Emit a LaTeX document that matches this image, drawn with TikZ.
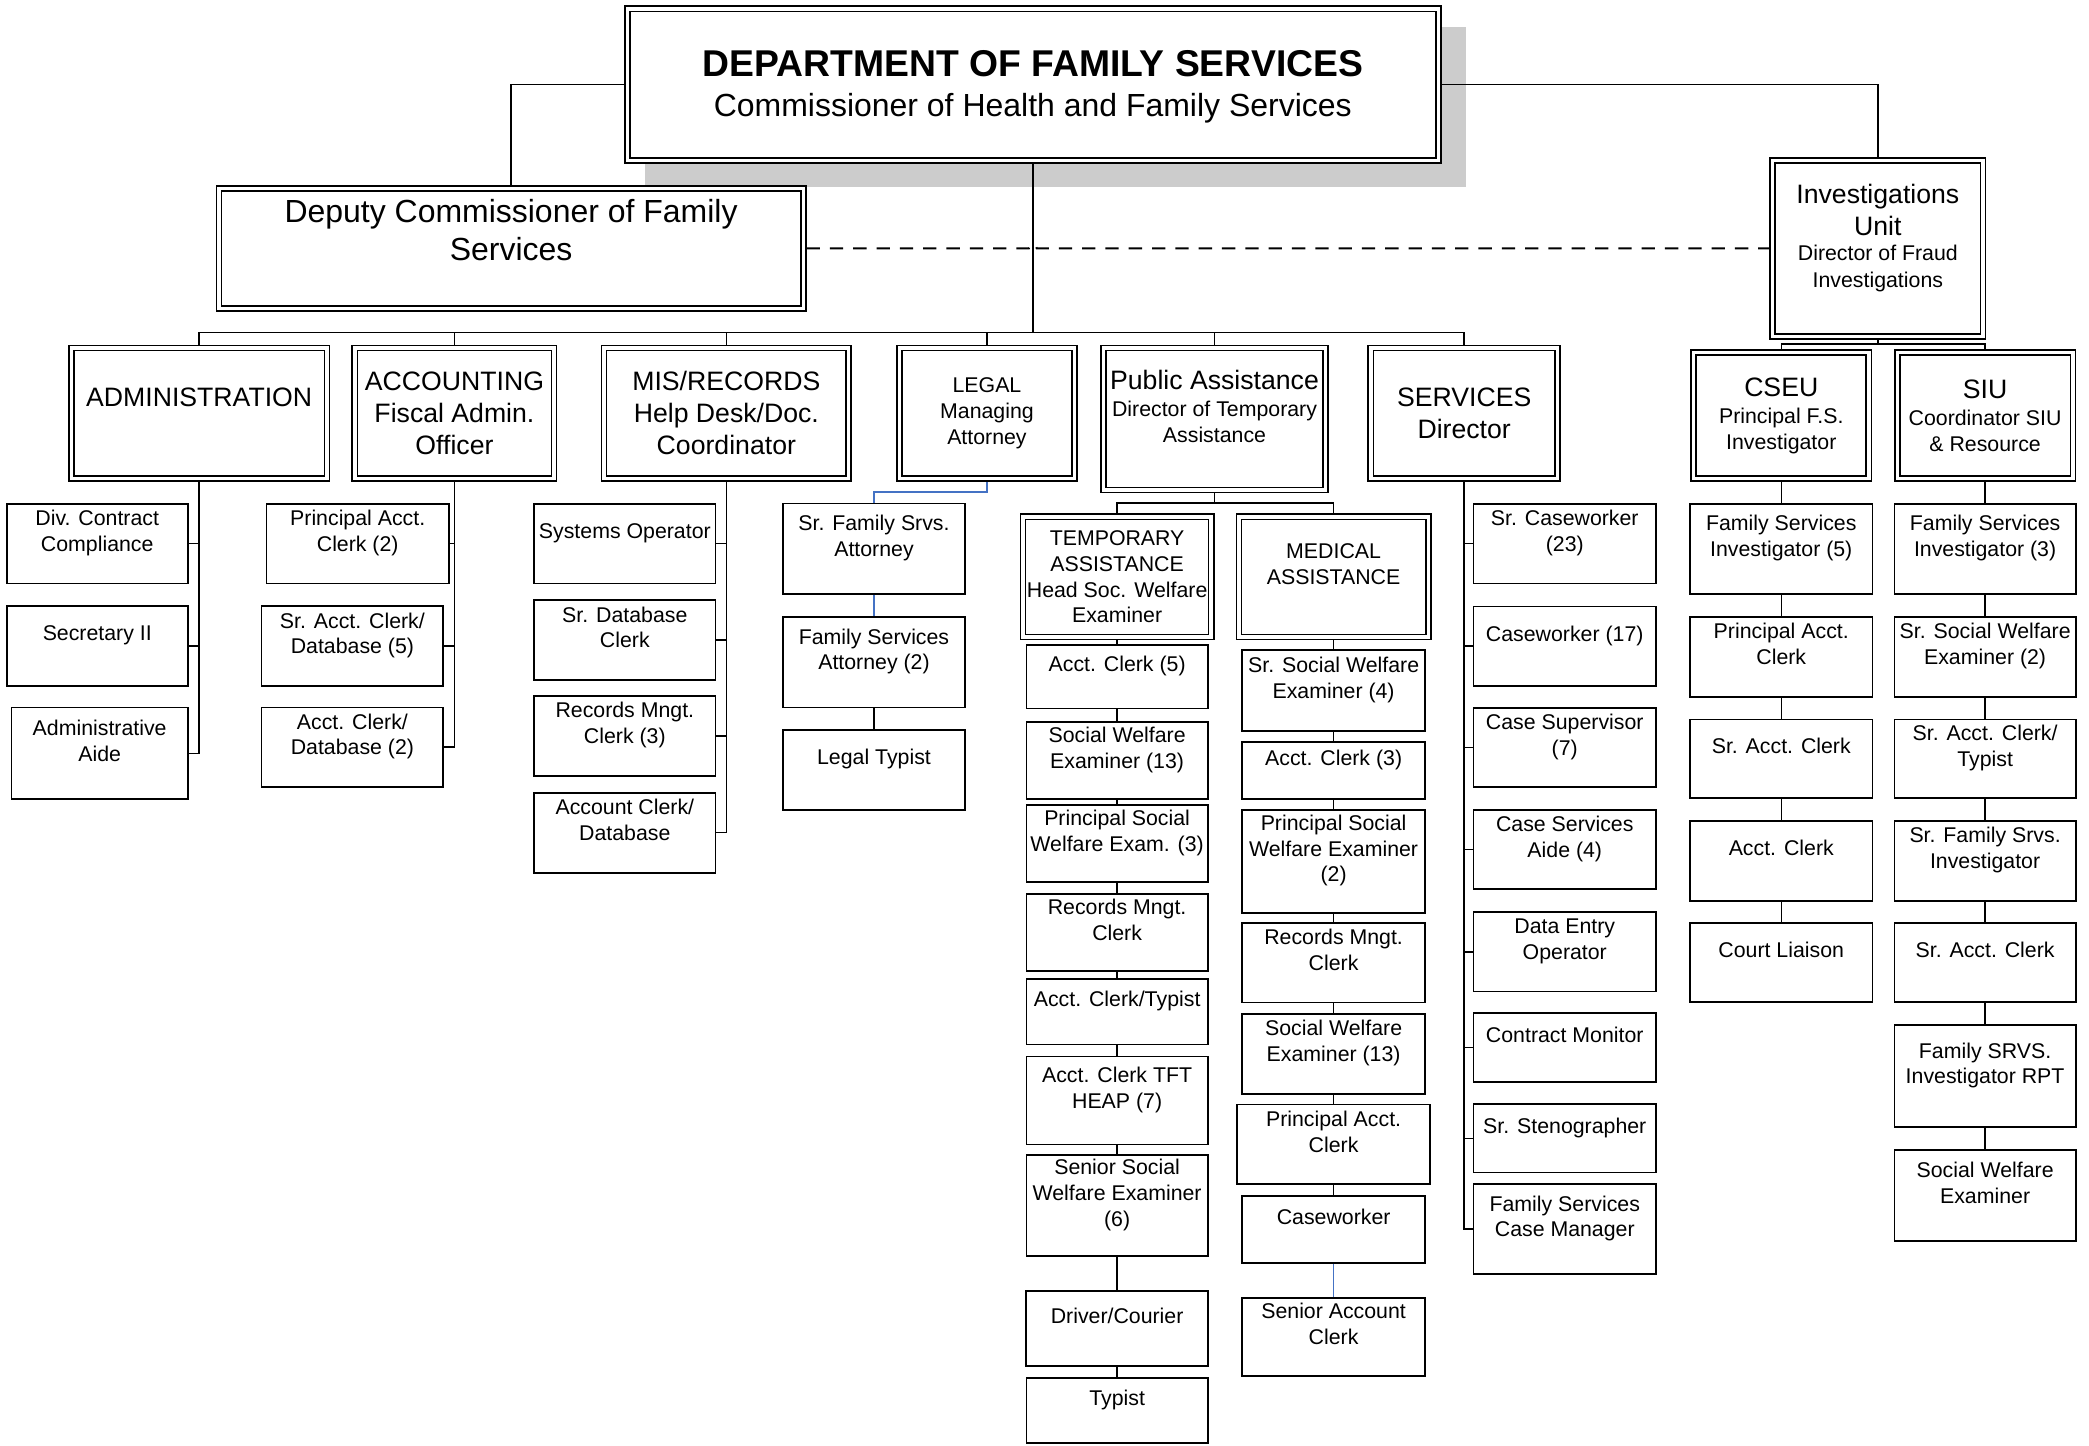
\documentclass[tikz,border=0pt]{standalone}
\usepackage{fontspec}
\setmainfont{Liberation Sans}
\usetikzlibrary{positioning,backgrounds}
\definecolor{linkblue}{RGB}{68,114,196}
\newcommand{\unitname}[1]{{\fontsize{20}{24}\selectfont #1}}
\newcommand{\tailrow}{\\\mbox{}}
\tikzset{
  link/.style={line width=1.1pt},
  dashlink/.style={line width=1.5pt, dash pattern=on 10pt off 7.5pt},
  bluelink/.style={link, draw=linkblue},
  post/.style={draw, line width=1.4pt, fill=white, align=center, inner sep=1pt,
    font=\fontsize{16}{19.3}\selectfont},
  unit/.style={post, double=white, double distance=2.6pt, line width=1.2pt, outer sep=2.5pt},
  boxsize/.style 2 args={minimum width=#1pt, minimum height=#2pt},
  midtext/.style={font=\fontsize{20}{24}\selectfont}
}

\begin{document}
\begin{tikzpicture}[x=1pt, y=-1pt]
  \useasboundingbox (0,0) rectangle (1568,1085);

  % commissioner and deputies
  \node[unit, boxsize={608.7}{114}, font=\fontsize{24}{28}\selectfont] (dept) at (775.2,63.6)
    {\rule{0pt}{23pt}{\fontsize{28}{33}\selectfont\bfseries DEPARTMENT OF FAMILY SERVICES}\\[2.4pt]Commissioner of Health and Family Services};
  \begin{scope}[on background layer]
    \fill[black!20] ([shift={(16,16)}]dept.north west) rectangle ([shift={(18,17)}]dept.south east);
  \end{scope}
  \node[unit, boxsize={438.6}{89.8}, font=\fontsize{24}{28}\selectfont] (dep) at (383.6,186.5)
    {Deputy Commissioner of Family\\Services\tailrow};
  \node[unit, boxsize={158}{132.4}] (inv) at (1409.5,186.5)
    {\unitname{Investigations}\\[4.7pt]\unitname{Unit}\\Director of Fraud\\[0.7pt]Investigations\tailrow};

  % divisions
  \node[unit, midtext, boxsize={191.7}{98}] (admin) at (149.5,310.1) {ADMINISTRATION\tailrow};
  \node[unit, midtext, boxsize={149.6}{98}] (acct) at (341.1,310.1) {ACCOUNTING\\Fiscal Admin.\\Officer};
  \node[unit, midtext, boxsize={183.7}{98}] (mis) at (545.2,310.1) {MIS/RECORDS\\Help Desk/Doc.\\Coordinator};
  \node[unit, boxsize={131.6}{98}] (legal) at (740.8,310.1) {LEGAL\\Managing\\Attorney};
  \node[unit, boxsize={166.7}{106.8}] (pa) at (911.6,314.5)
    {\unitname{Public Assistance}\\[1.2pt]Director of Temporary\\Assistance\tailrow};
  \node[unit, midtext, boxsize={140.2}{98}] (svc) at (1099,310.1) {SERVICES\\Director};
  \node[unit, boxsize={131.4}{94.5}] (cseu) at (1337,311.9)
    {\unitname{CSEU}\\[1.2pt]Principal F.S.\\Investigator};
  \node[unit, boxsize={131.9}{94.5}] (siu) at (1490,311.9)
    {\unitname{SIU}\\[1.2pt]Coordinator SIU\\\& Resource};
  \node[unit, boxsize={141.2}{90.2}] (temp) at (838.5,433) {TEMPORARY\\ASSISTANCE\\Head Soc. Welfare\\Examiner};
  \node[unit, boxsize={142.2}{90.2}] (med) at (1001,433) {MEDICAL\\ASSISTANCE\tailrow};

  % administration
  \node[post, boxsize={136}{60}] (ad1) at (73,408) {Div. Contract\\Compliance\tailrow};
  \node[post, boxsize={136}{60}] (ad2) at (73,485) {Secretary II\tailrow};
  \node[post, boxsize={132.4}{68.7}] (ad3) at (74.8,565.4) {Administrative\\Aide\tailrow};

  % accounting
  \node[post, boxsize={137}{60}] (ac1) at (268.5,408) {Principal Acct.\\Clerk (2)\tailrow};
  \node[post, boxsize={136.4}{60}] (ac2) at (264.5,485) {Sr. Acct. Clerk/\\Database (5)\tailrow};
  \node[post, boxsize={136.4}{59.4}] (ac3) at (264.5,560.7) {Acct. Clerk/\\Database (2)\tailrow};

  % mis/records
  \node[post, boxsize={136}{60}] (ms1) at (469,408) {Systems Operator\tailrow};
  \node[post, boxsize={136}{60}] (ms2) at (469,480.4) {Sr. Database\\Clerk\tailrow};
  \node[post, boxsize={136}{60}] (ms3) at (469,552.4) {Records Mngt.\\Clerk (3)\tailrow};
  \node[post, boxsize={136}{60}] (ms4) at (469,625) {Account Clerk/\\Database\tailrow};

  % legal
  \node[post, boxsize={136.5}{68.2}] (lg1) at (656,412) {Sr. Family Srvs.\\Attorney\tailrow};
  \node[post, boxsize={136.5}{68}] (lg2) at (656,497) {Family Services\\Attorney (2)\tailrow};
  \node[post, boxsize={136.5}{60}] (lg3) at (656,578) {Legal Typist\tailrow};

  % temporary assistance
  \node[post, boxsize={136}{47.6}] (tp1) at (838.5,508) {Acct. Clerk (5)\tailrow};
  \node[post, boxsize={136}{58}] (tp2) at (838.5,570.8) {Social Welfare\\Examiner (13)\tailrow};
  \node[post, boxsize={136}{58}] (tp3) at (838.5,633) {Principal Social\\Welfare Exam. (3)\tailrow};
  \node[post, boxsize={136}{58}] (tp4) at (838.5,700) {Records Mngt.\\Clerk\tailrow};
  \node[post, boxsize={136}{49}] (tp5) at (838.5,759.5) {Acct. Clerk/Typist\tailrow};
  \node[post, boxsize={136}{66}] (tp6) at (838.5,826) {Acct. Clerk TFT\\HEAP (7)\tailrow};
  \node[post, boxsize={136}{76}] (tp7) at (838.5,905) {Senior Social\\Welfare Examiner\\(6)\tailrow};
  \node[post, boxsize={137}{56}] (tp8) at (838.5,997) {Driver/Courier\tailrow};
  \node[post, boxsize={136}{49}] (tp9) at (838.5,1058.5) {Typist\tailrow};

  % medical assistance
  \node[post, boxsize={137}{61}] (md1) at (1001,518.5) {Sr. Social Welfare\\Examiner (4)\tailrow};
  \node[post, boxsize={137}{43}] (md2) at (1001,578.5) {Acct. Clerk (3)\tailrow};
  \node[post, boxsize={137}{77}] (md3) at (1001,646.5) {Principal Social\\Welfare Examiner\\(2)\tailrow};
  \node[post, boxsize={137}{59.6}] (md4) at (1001,722.7) {Records Mngt.\\Clerk\tailrow};
  \node[post, boxsize={137}{60}] (md5) at (1001,791) {Social Welfare\\Examiner (13)\tailrow};
  \node[post, boxsize={145}{60}] (md6) at (1001,859) {Principal Acct.\\Clerk\tailrow};
  \node[post, boxsize={137}{50}] (md7) at (1001,923) {Caseworker\tailrow};
  \node[post, boxsize={137}{59}] (md8) at (1001,1003.5) {Senior Account\\Clerk\tailrow};

  % services
  \node[post, boxsize={137}{60}] (sv1) at (1174.5,408) {Sr. Caseworker\\(23)\tailrow};
  \node[post, boxsize={137}{59.6}] (sv2) at (1174.5,485) {Caseworker (17)\tailrow};
  \node[post, boxsize={137}{59.4}] (sv3) at (1174.5,561) {Case Supervisor\\(7)\tailrow};
  \node[post, boxsize={137}{59.5}] (sv4) at (1174.5,637.7) {Case Services\\Aide (4)\tailrow};
  \node[post, boxsize={137}{59.5}] (sv5) at (1174.5,714.5) {Data Entry\\Operator\tailrow};
  \node[post, boxsize={137}{51.5}] (sv6) at (1174.5,786.2) {Contract Monitor\tailrow};
  \node[post, boxsize={137}{51.3}] (sv7) at (1174.5,854.4) {Sr. Stenographer\tailrow};
  \node[post, boxsize={137}{67.6}] (sv8) at (1174.5,922.5) {Family Services\\Case Manager\tailrow};

  % cseu
  \node[post, boxsize={137}{68}] (cs1) at (1337,412) {Family Services\\Investigator (5)\tailrow};
  \node[post, boxsize={137}{60}] (cs2) at (1337,493) {Principal Acct.\\Clerk\tailrow};
  \node[post, boxsize={137}{59}] (cs3) at (1337,569.5) {Sr. Acct. Clerk\tailrow};
  \node[post, boxsize={137}{60}] (cs4) at (1337,646) {Acct. Clerk\tailrow};
  \node[post, boxsize={137}{59}] (cs5) at (1337,722.5) {Court Liaison\tailrow};

  % siu
  \node[post, boxsize={136}{68}] (si1) at (1490,412) {Family Services\\Investigator (3)\tailrow};
  \node[post, boxsize={136}{60}] (si2) at (1490,493) {Sr. Social Welfare\\Examiner (2)\tailrow};
  \node[post, boxsize={136}{59}] (si3) at (1490,569.5) {Sr. Acct. Clerk/\\Typist\tailrow};
  \node[post, boxsize={136}{60}] (si4) at (1490,646) {Sr. Family Srvs.\\Investigator\tailrow};
  \node[post, boxsize={136}{59}] (si5) at (1490,722.5) {Sr. Acct. Clerk\tailrow};
  \node[post, boxsize={136}{76.6}] (si6) at (1490,807.7) {Family SRVS.\\Investigator RPT\tailrow};
  \node[post, boxsize={136}{68}] (si7) at (1490,897.2) {Social Welfare\\Examiner\tailrow};

  % connectors
  \draw[link] (dept.west) -| (dep.north);
  \draw[link] (dept.east) -| (inv.north);
  \foreach \d in {admin,acct,mis,legal,pa,svc}
    \draw[link] (dept.south) |- ([yshift=9pt]\d.north) -- (\d.north);
  \coordinate (hop) at (dep.east -| dept.south);
  \draw[dashlink] (dep.east) -- ([xshift=-3pt]hop) arc[start angle=180, end angle=0, radius=3pt] -- (inv.west);
  \foreach \d in {cseu,siu}
    \draw[link] (inv.south) |- ([yshift=4pt]\d.north) -- (\d.north);
  \foreach \d in {temp,med}
    \draw[link] (pa.south) |- ([yshift=8pt]\d.north) -- (\d.north);

  \foreach \i in {1,2,3} \draw[link] (admin.south) |- (ad\i.east);
  \foreach \i in {1,2,3} \draw[link] (acct.south) |- (ac\i.east);
  \foreach \i in {1,...,4} \draw[link] (mis.south) |- (ms\i.east);
  \foreach \i in {1,...,8} \draw[link] (svc.south) |- (sv\i.west);

  \draw[bluelink] (legal.south) |- ([yshift=8pt]lg1.north) -- (lg1.north);
  \draw[bluelink] (lg1) -- (lg2);
  \draw[link] (lg2) -- (lg3);

  \draw[link] (temp) -- (tp1);
  \foreach \i [count=\j from 2] in {1,...,8} \draw[link] (tp\i) -- (tp\j);
  \draw[link] (med) -- (md1);
  \foreach \i [count=\j from 2] in {1,...,6} \draw[link] (md\i) -- (md\j);
  \draw[bluelink] (md7) -- (md8);
  \draw[link] (cseu) -- (cs1);
  \foreach \i [count=\j from 2] in {1,...,4} \draw[link] (cs\i) -- (cs\j);
  \draw[link] (siu) -- (si1);
  \foreach \i [count=\j from 2] in {1,...,6} \draw[link] (si\i) -- (si\j);
\end{tikzpicture}
\end{document}
